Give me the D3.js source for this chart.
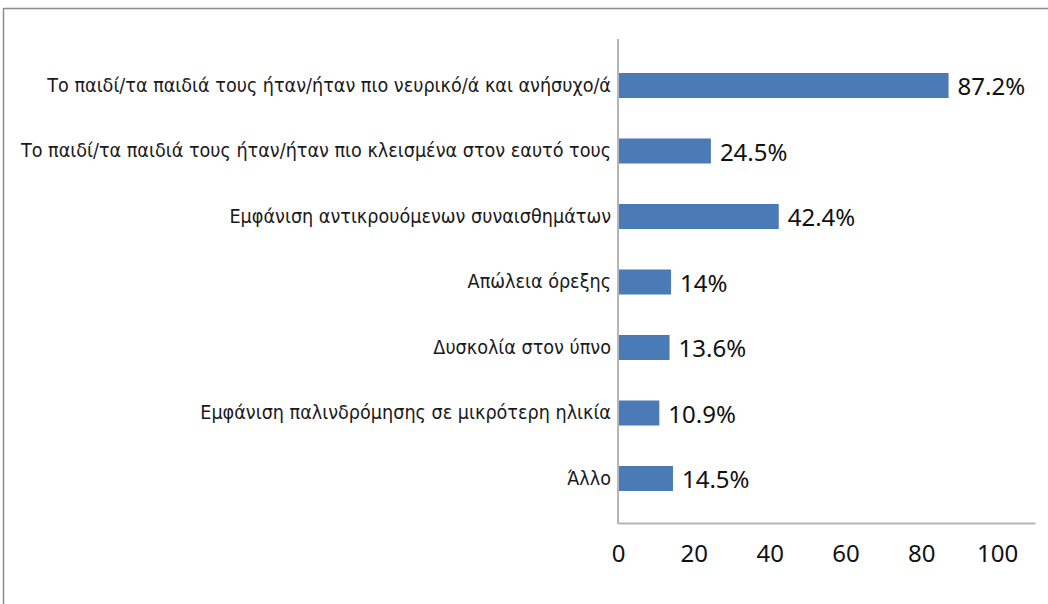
<!DOCTYPE html>
<html>
<head>
<meta charset="utf-8">
<script src="https://cdn.jsdelivr.net/npm/d3@7"></script>
<style>
  html, body { margin: 0; padding: 0; background: #fff; }
  svg { display: block; }
  .cat { font-family: "Liberation Sans Narrow", "DejaVu Sans Condensed", "Noto Sans", sans-serif; }
  .num { font-family: "Noto Sans", "Open Sans", sans-serif; }
</style>
</head>
<body>
<svg id="chart" width="1048" height="604"></svg>
<script>
// Reactions of children, share of respondents (%)
const categories = [
  "Το παιδί/τα παιδιά τους ήταν/ήταν πιο νευρικό/ά και ανήσυχο/ά",
  "Το παιδί/τα παιδιά τους ήταν/ήταν πιο κλεισμένα στον εαυτό τους",
  "Εμφάνιση αντικρουόμενων συναισθημάτων",
  "Απώλεια όρεξης",
  "Δυσκολία στον ύπνο",
  "Εμφάνιση παλινδρόμησης σε μικρότερη ηλικία",
  "Άλλο"
];
const values = [87.2, 24.5, 42.4, 14, 13.6, 10.9, 14.5];
const valueLabels = ["87.2%", "24.5%", "42.4%", "14%", "13.6%", "10.9%", "14.5%"];
const xTicks = [0, 20, 40, 60, 80, 100];

const svg = d3.select("#chart");

// outer frame
svg.append("rect")
  .attr("x", 3.5).attr("y", 8.5)
  .attr("width", 1200).attr("height", 800)
  .attr("fill", "none")
  .attr("stroke", "#8c8c8c")
  .attr("stroke-width", 1.5);

const x0 = 618, axisY = 523, axisTop = 39;
const x = d3.scaleLinear().domain([0, 110]).range([x0, 1035]);
const y = d3.scaleBand()
  .domain(categories)
  .range([52.75, 511.25])
  .paddingInner(0.618)
  .paddingOuter(0.309);

// bars
svg.append("g").selectAll("rect")
  .data(values)
  .join("rect")
  .attr("x", x(0) + 1)
  .attr("y", (d, i) => y(categories[i]))
  .attr("width", d => x(d) - x(0) - 1)
  .attr("height", y.bandwidth())
  .attr("fill", "#4a7bb6");

// value labels
svg.append("g").selectAll("text")
  .data(values)
  .join("text")
  .attr("class", "num")
  .attr("x", d => x(d) + 9)
  .attr("y", (d, i) => y(categories[i]) + y.bandwidth() / 2 + 1)
  .attr("dy", "0.36em")
  .attr("font-size", 24)
  .attr("fill", "#111")
  .text((d, i) => valueLabels[i]);

// x axis
const xAxis = d3.axisBottom(x).tickValues(xTicks).tickSize(0).tickPadding(22);
const gx = svg.append("g")
  .attr("transform", `translate(0,${axisY})`)
  .call(xAxis);
gx.select(".domain").attr("stroke", "#b4b5b9").attr("stroke-width", 2);
gx.selectAll(".tick text")
  .attr("class", "num")
  .attr("font-size", 24)
  .attr("fill", "#111");

// y axis (category names)
const yAxis = d3.axisLeft(y).tickSize(0).tickPadding(7);
const gy = svg.append("g")
  .attr("transform", `translate(${x0},0)`)
  .call(yAxis);
gy.select(".domain").remove();
gy.selectAll(".tick text")
  .attr("class", "cat")
  .attr("font-size", 19.6)
  .attr("fill", "#1a1a1a");
svg.append("line")
  .attr("x1", x0).attr("x2", x0)
  .attr("y1", axisTop).attr("y2", axisY + 1)
  .attr("stroke", "#b4b5b9")
  .attr("stroke-width", 2);
</script>
</body>
</html>
